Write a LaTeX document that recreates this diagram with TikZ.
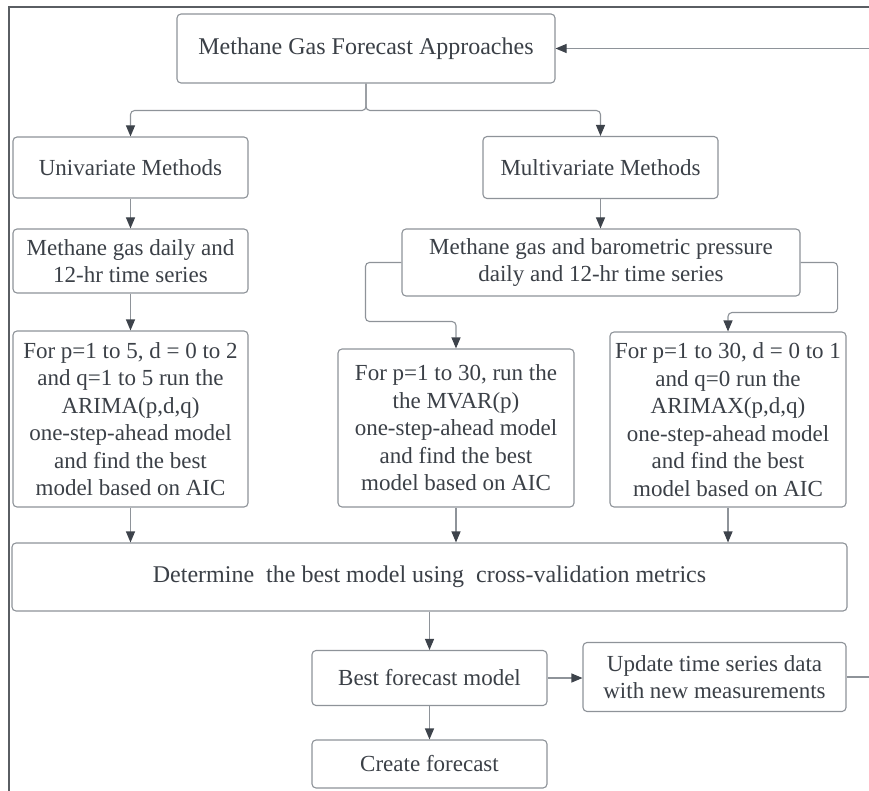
\documentclass[tikz,border=0pt]{standalone}
\usepackage{fontspec}
\setmainfont{Liberation Serif}
\usetikzlibrary{arrows.meta}

\definecolor{boxc}{HTML}{8E9399}
\definecolor{linec}{HTML}{8E9399}
\definecolor{tipc}{HTML}{3D434B}
\definecolor{txtc}{HTML}{3B4047}
\definecolor{framec}{HTML}{5A5E63}

\tikzset{
  box/.style={draw=boxc, line width=1.1pt, rounded corners=4pt, fill=white,
    align=center, inner sep=0pt, text=txtc,
    font=\fontsize{23}{27.5}\selectfont},
  link/.style={draw=linec, line width=1.1pt, rounded corners=4pt},
  arr/.style={link, -{Triangle[length=11pt,width=9pt,color=tipc]}},
}

\begin{document}
\begin{tikzpicture}[x=1pt,y=-1pt]
\useasboundingbox (0,0) rectangle (869,791);

% outer frame (open to the right and bottom)
\draw[framec, line width=1.6pt] (9,830) -- (9,7) -- (900,7);

% boxes
\node[box, minimum width=378pt, minimum height=69pt, font=\fontsize{24}{27.5}\selectfont] (top) at (366,48.5) {Methane Gas Forecast Approaches};
\node[box, minimum width=235pt, minimum height=61pt] (uni) at (130.5,167.5) {Univariate Methods};
\node[box, minimum width=235pt, minimum height=62pt] (multi) at (600.5,167.5) {Multivariate Methods};
\node[box, minimum width=235pt, minimum height=64pt] (ts1) at (130.5,261) {Methane gas daily and\\12-hr time series};
\node[box, minimum width=398pt, minimum height=67pt] (ts2) at (601,262.5) {Methane gas and barometric pressure\\daily and 12-hr time series};
\node[box, minimum width=235pt, minimum height=176pt] (arima) at (130.5,419) {For p=1 to 5, d = 0 to 2\\and q=1 to 5 run the\\ARIMA(p,d,q)\\one-step-ahead model\\and find the best\\model based on AIC};
\node[box, minimum width=236pt, minimum height=158pt] (mvar) at (456,428) {For p=1 to 30, run the\\the MVAR(p)\\one-step-ahead model\\and find the best\\model based on AIC};
\node[box, minimum width=236pt, minimum height=175pt] (arimax) at (728,419.5) {For p=1 to 30, d = 0 to 1\\and q=0 run the\\ARIMAX(p,d,q)\\one-step-ahead model\\and find the best\\model based on AIC};
\node[box, minimum width=835pt, minimum height=68pt, font=\fontsize{24}{27.5}\selectfont] (det) at (429.5,577) {Determine\ \ the best model using\ \ cross-validation metrics};
\node[box, minimum width=235pt, minimum height=55pt] (best) at (429.5,678) {Best forecast model};
\node[box, minimum width=235pt, minimum height=48pt] (create) at (429.5,764) {Create forecast};
\node[box, minimum width=263pt, minimum height=69pt] (upd) at (714.5,677) {Update time series data\\with new measurements};

% feedback loop ends beyond the right edge
\coordinate (loopA) at (890,677);
\coordinate (loopB) at (890,48.5);

% connectors
\draw[arr] (top.south) -- ++(0,27) -| (uni.north);
\draw[arr] (top.south) -- ++(0,27) -| (multi.north);
\draw[arr] (uni) -- (ts1);
\draw[arr] (multi.south) -- (multi.south |- ts2.north);
\draw[arr] (ts1) -- (arima);
\draw[arr] (ts2.west) -- ++(-36,0) -- ++(0,59) -| (mvar.north);
\draw[arr] (ts2.east) -- ++(37,0) -- ++(0,50) -| (arimax.north);
\draw[arr] (arima.south) -- (arima.south |- det.north);
\draw[arr] (mvar.south) -- (mvar.south |- det.north);
\draw[arr] (arimax.south) -- (arimax.south |- det.north);
\draw[arr] (det.south) -- (best.north);
\draw[arr] (best) -- (create);
\draw[arr] (best.east) -- (best.east -| upd.west);
\draw[arr, rounded corners=0pt] (upd.east) -- (loopA) -- (loopB) -- (top.east);
\end{tikzpicture}
\end{document}
